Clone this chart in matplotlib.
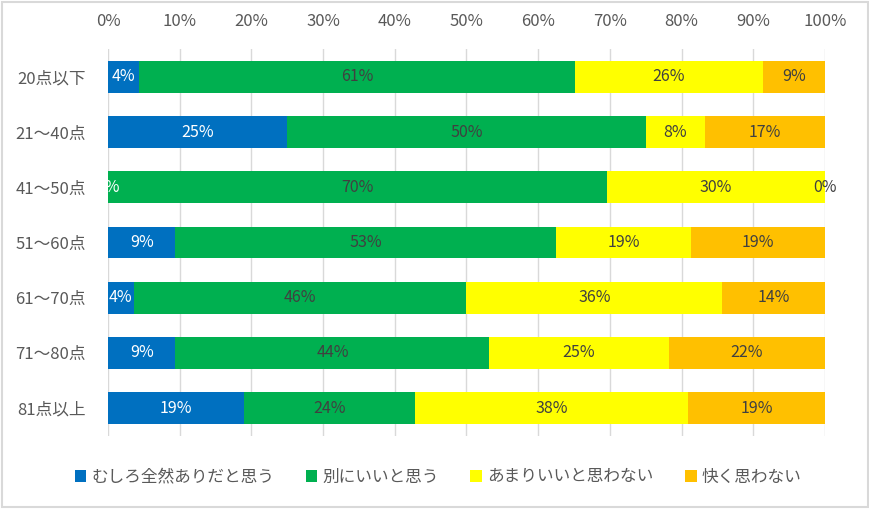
import numpy as np
import matplotlib.pyplot as plt
from matplotlib.patches import Rectangle

plt.rcParams['font.family'] = ['Noto Sans CJK JP', 'DejaVu Sans']

# 得点帯ごとの回答割合 (%)
categories = ['20点以下', '21～40点', '41～50点', '51～60点', '61～70点', '71～80点', '81点以上']
series_names = ['むしろ全然ありだと思う', '別にいいと思う', 'あまりいいと思わない', '快く思わない']
s_blue = [4.3, 25.0, 0.0, 9.4, 3.6, 9.4, 19.0]
s_green = [60.9, 50.0, 69.6, 53.1, 46.4, 43.8, 23.8]
s_yellow = [26.1, 8.3, 30.4, 18.8, 35.7, 25.0, 38.1]
s_orange = [8.7, 16.7, 0.0, 18.7, 14.3, 21.8, 19.1]
xticks = [0, 10, 20, 30, 40, 50, 60, 70, 80, 90, 100]

colors = ['#0070C0', '#00B050', '#FFFF00', '#FFC000']
label_colors = ['white', '#404040', '#404040', '#404040']
txt = '#595959'

fig = plt.figure(figsize=(8.7, 5.09), dpi=100)
ax = fig.add_axes([108 / 870, 1 - 435.6 / 509, (825 - 108) / 870, (435.6 - 49.4) / 509])

y = np.arange(len(categories))
left = np.zeros(len(categories))
for vals, c, lc, name in zip([s_blue, s_green, s_yellow, s_orange], colors, label_colors, series_names):
    vals = np.array(vals)
    ax.barh(y, vals, left=left, height=0.58, color=c, label=name, zorder=2)
    for yi, l, v in zip(y, left, vals):
        ax.text(l + v / 2, yi, '%d%%' % round(v), ha='center', va='center',
                color=lc, fontsize=11.5, zorder=3)
    left += vals

ax.set_ylim(len(categories) - 0.5, -0.5)
ax.set_xlim(0, 100)
ax.set_yticks(y)
ax.set_yticklabels(categories, fontsize=12, color=txt)
ax.set_xticks(xticks)
ax.set_xticklabels(['%d%%' % t for t in xticks], fontsize=12, color=txt)
ax.xaxis.tick_top()
ax.tick_params(axis='both', length=0)
ax.tick_params(axis='x', pad=14)
ax.tick_params(axis='y', pad=16)
ax.grid(axis='x', color='#d9d9d9', linewidth=1, zorder=0)
for s in ax.spines.values():
    s.set_visible(False)

fig.legend(loc='center', bbox_to_anchor=(438 / 870, 1 - 477 / 509), ncol=4, frameon=False,
           handlelength=0.7, handleheight=0.7, handletextpad=0.3, columnspacing=1.9,
           prop={'size': 12}, labelcolor=txt)

fig.patches.append(Rectangle((0.002, 0.003), 0.996, 0.994, transform=fig.transFigure,
                             fill=False, edgecolor='#d9d9d9', linewidth=1.5))

fig.savefig('out.png', dpi=100)
